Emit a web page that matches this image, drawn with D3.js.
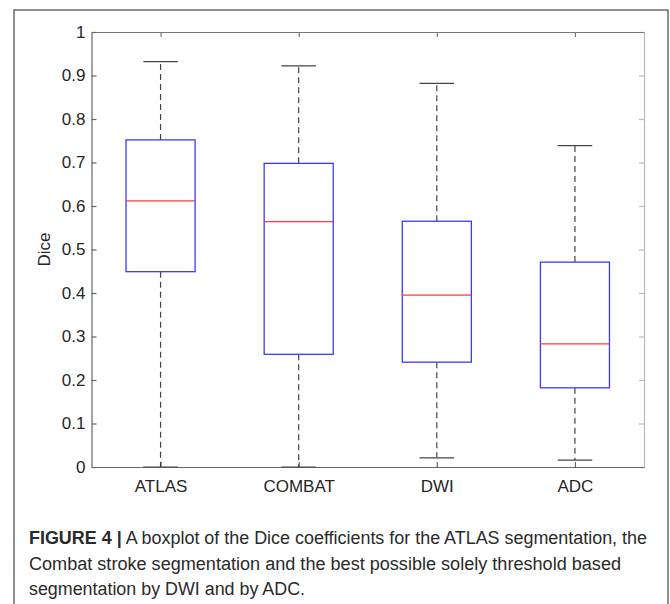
<!DOCTYPE html>
<html><head><meta charset="utf-8">
<script src="https://cdn.jsdelivr.net/npm/d3@7"></script>
<style>body{margin:0;background:#fff}svg{display:block}</style>
</head><body>
<script>
const categories = ["ATLAS","COMBAT","DWI","ADC"];
const whiskerLow  = [0.0, 0.0, 0.021, 0.016];
const q1          = [0.449, 0.259, 0.241, 0.182];
const medians     = [0.612, 0.564, 0.395, 0.283];
const q3          = [0.752, 0.698, 0.565, 0.471];
const whiskerHigh = [0.932, 0.922, 0.882, 0.739];
const yTicks = [0,0.1,0.2,0.3,0.4,0.5,0.6,0.7,0.8,0.9,1];
const yTickLabels = ["0","0.1","0.2","0.3","0.4","0.5","0.6","0.7","0.8","0.9","1"];
const yLabel = "Dice";
const captionBold = "FIGURE 4 |";
const captionLines = [" A boxplot of the Dice coefficients for the ATLAS segmentation, the",
 "Combat stroke segmentation and the best possible solely threshold based",
 "segmentation by DWI and by ADC."];

const W=670,H=604;
const svg=d3.select("body").append("svg").attr("width",W).attr("height",H);
const font="'Liberation Sans', Arial, Helvetica, sans-serif";

// outer frame
svg.append("rect").attr("x",14).attr("y",10).attr("width",654).attr("height",H).attr("fill","none").attr("stroke","#555").attr("stroke-width",1.3);

const L=91.5,R=644,T=32,B=467;
const x=d3.scaleLinear().domain([0.5,4.5]).range([L,R]);
const y=d3.scaleLinear().domain([0,1]).range([B,T]);
const bw=x(1.25)-x(1);
const cw=x(1.125)-x(1);

const g=svg.append("g");
const axL=d3.axisLeft(y).tickValues(yTicks).tickFormat((d,i)=>yTickLabels[i]).tickSizeInner(-5).tickSizeOuter(0).tickPadding(6);
const axR=d3.axisRight(y).tickValues(yTicks).tickFormat("").tickSizeInner(-5).tickSizeOuter(0);
const axB=d3.axisBottom(x).tickValues([1,2,3,4]).tickFormat((d,i)=>categories[i]).tickSizeInner(-5).tickSizeOuter(0).tickPadding(13);
const axT=d3.axisTop(x).tickValues([1,2,3,4]).tickFormat("").tickSizeInner(-5).tickSizeOuter(0);
function style(sel,col){sel.selectAll("path,line").attr("stroke",col).attr("stroke-width",1.2);sel.selectAll("text").attr("fill","#262626").style("font-family",font).style("font-size","17px");}
style(g.append("g").attr("transform",`translate(${R},0)`).call(axR),"#bbb");
style(g.append("g").attr("transform",`translate(0,${T})`).call(axT),"#777");
style(g.append("g").attr("transform",`translate(${L},0)`).call(axL),"#666");
style(g.append("g").attr("transform",`translate(0,${B})`).call(axB),"#666");

svg.append("text").attr("transform",`translate(46,${(T+B)/2}) rotate(-90)`).attr("text-anchor","middle").attr("dominant-baseline","middle")
 .style("font-family",font).style("font-size","17px").attr("fill","#262626").text(yLabel);

const data=categories.map((c,i)=>({i:i+1,lo:whiskerLow[i],q1:q1[i],med:medians[i],q3:q3[i],hi:whiskerHigh[i]}));
const bx=svg.append("g").selectAll("g").data(data).join("g");
bx.append("line").attr("x1",d=>x(d.i)).attr("x2",d=>x(d.i)).attr("y1",d=>y(d.q3)).attr("y2",d=>y(d.hi)).attr("stroke","#444").attr("stroke-width",1.2).attr("stroke-dasharray","6,4");
bx.append("line").attr("x1",d=>x(d.i)).attr("x2",d=>x(d.i)).attr("y1",d=>y(d.q1)).attr("y2",d=>y(d.lo)).attr("stroke","#444").attr("stroke-width",1.2).attr("stroke-dasharray","6,4");
bx.append("line").attr("x1",d=>x(d.i)-cw).attr("x2",d=>x(d.i)+cw).attr("y1",d=>y(d.hi)).attr("y2",d=>y(d.hi)).attr("stroke","#444").attr("stroke-width",1.2);
bx.append("line").attr("x1",d=>x(d.i)-cw).attr("x2",d=>x(d.i)+cw).attr("y1",d=>y(d.lo)).attr("y2",d=>y(d.lo)).attr("stroke","#444").attr("stroke-width",1.2);
bx.append("rect").attr("x",d=>x(d.i)-bw).attr("width",2*bw).attr("y",d=>y(d.q3)).attr("height",d=>y(d.q1)-y(d.q3)).attr("fill","none").attr("stroke","#3a3aff").attr("stroke-width",1.3);
bx.append("line").attr("x1",d=>x(d.i)-bw).attr("x2",d=>x(d.i)+bw).attr("y1",d=>y(d.med)).attr("y2",d=>y(d.med)).attr("stroke","#ff3a3a").attr("stroke-width",1.3);

// caption
const cap=svg.append("g").style("font-family",font).style("font-size","18px").attr("fill","#2a2a2a");
const t1=cap.append("text").attr("x",29).attr("y",544).attr("textLength",618).attr("lengthAdjust","spacingAndGlyphs");
t1.append("tspan").attr("font-weight","bold").text(captionBold);
t1.append("tspan").text(captionLines[0]);
cap.append("text").attr("x",29).attr("y",570).attr("textLength",592).attr("lengthAdjust","spacingAndGlyphs").text(captionLines[1]);
cap.append("text").attr("x",29).attr("y",595).attr("textLength",276).attr("lengthAdjust","spacingAndGlyphs").text(captionLines[2]);
</script>
</body></html>
